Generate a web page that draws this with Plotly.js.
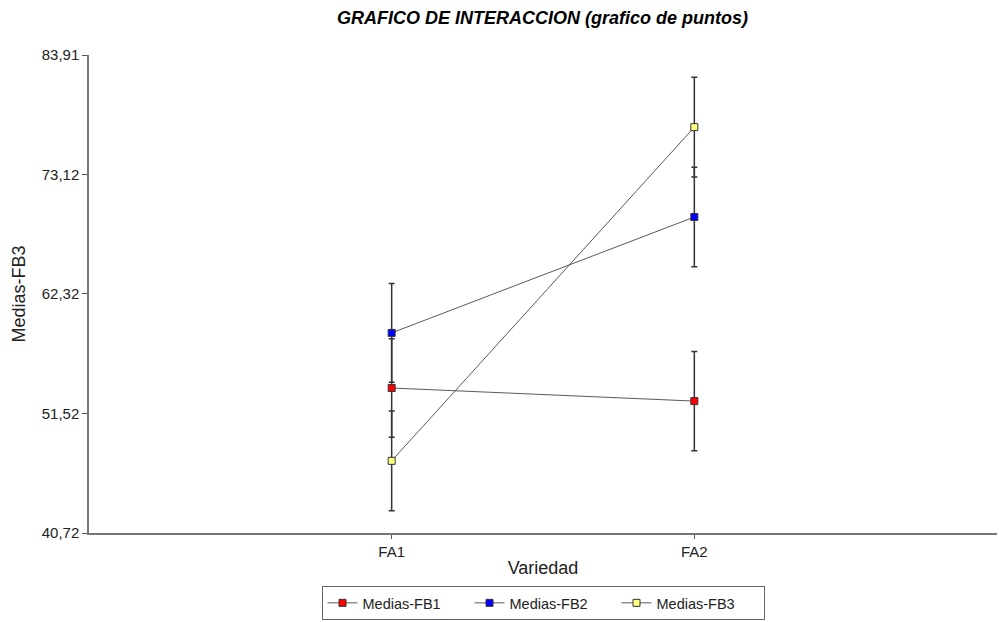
<!DOCTYPE html>
<html>
<head>
<meta charset="utf-8">
<script src="https://cdn.plot.ly/plotly-3.0.1.min.js"></script>
<style>html,body{margin:0;padding:0;background:#fff;}#chart{width:999px;height:622px;}</style>
</head>
<body>
<div id="chart"></div>
<script>
const categories = ["FA1", "FA2"];
const seriesNames = ["Medias-FB1", "Medias-FB2", "Medias-FB3"];
const fb1 = [53.82, 52.64];
const fb2 = [58.80, 69.27];
const fb3 = [47.24, 77.39];
const err1 = [4.45, 4.48];
const err2 = [4.46, 4.50];
const err3 = [4.50, 4.50];
const colors = ["#ff0000", "#0000ff", "#ffff80"];
const yTickVals = [40.72, 51.52, 62.32, 73.12, 83.91];
const yTickText = ["40,72", "51,52", "62,32", "73,12", "83,91"];

const values = [fb1, fb2, fb3];
const errs = [err1, err2, err3];
const traces = values.map((v, i) => ({
  x: categories,
  y: v,
  name: seriesNames[i],
  type: "scatter",
  mode: "lines+markers",
  line: {color: "#5a5a5a", width: 1},
  marker: {symbol: "square", size: 7, color: colors[i], line: {color: "#333", width: 1}},
  error_y: {type: "data", array: errs[i], visible: true, color: "#333", thickness: 1.5, width: 3}
}));

const layout = {
  width: 999, height: 622,
  paper_bgcolor: "#fff", plot_bgcolor: "#fff",
  margin: {l: 89, r: 2, t: 55, b: 89},
  font: {family: "Liberation Sans, Arial, sans-serif", color: "#222"},
  title: {text: "<b><i>GRAFICO DE INTERACCION (grafico de puntos)</i></b>", x: 0.543, xanchor: "center", y: 0.972, yanchor: "middle",
          font: {size: 18, color: "#000", family: "Liberation Sans, Arial, sans-serif"}},
  xaxis: {
    type: "category", range: [-1, 2], showgrid: false, zeroline: false,
    showline: true, linecolor: "#777", linewidth: 1.5,
    ticks: "outside", ticklen: 4, tickcolor: "#555",
    tickfont: {size: 15, color: "#222"},
    title: {text: "Variedad", font: {size: 18, color: "#222"}, standoff: 3}
  },
  yaxis: {
    range: [40.72, 83.91], showgrid: false, zeroline: false,
    showline: true, linecolor: "#777", linewidth: 1.5,
    ticks: "outside", ticklen: 5, tickcolor: "#555",
    tickvals: yTickVals, ticktext: yTickText,
    tickfont: {size: 15, color: "#222"},
    title: {text: "Medias-FB3", font: {size: 18, color: "#222"}, standoff: 11}
  },
  showlegend: true,
  legend: {orientation: "h", x: 0.5, xanchor: "center", yref: "container", y: 0.058, yanchor: "top",
           bordercolor: "#666", borderwidth: 1, font: {size: 14.5, color: "#222"},
           itemwidth: 30, entrywidth: 102, tracegroupgap: 0}
};
Plotly.newPlot("chart", traces, layout, {displayModeBar: false});
</script>
</body>
</html>
